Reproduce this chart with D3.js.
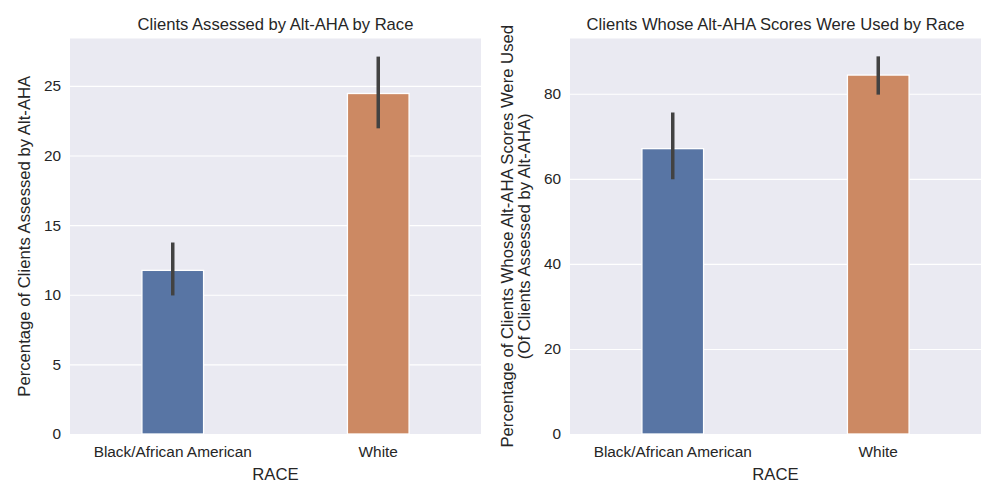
<!DOCTYPE html>
<html>
<head>
<meta charset="utf-8">
<script src="https://cdn.jsdelivr.net/npm/d3@7"></script>
<style>
  body { margin: 0; background: #fff; }
  text { font-family: "Liberation Sans", Arial, sans-serif; fill: #262626; }
</style>
</head>
<body>
<div id="chart"></div>
<script>
// data
const races = ["Black/African American", "White"];
const assessedPct = [11.75, 24.45];
const assessedLow = [9.95, 21.95];
const assessedHigh = [13.75, 27.1];
const usedPct = [67.1, 84.4];
const usedLow = [59.9, 79.8];
const usedHigh = [75.6, 88.8];
const barColors = ["#5875A4", "#CC8963"];

const width = 1000, height = 500;
const svg = d3.select("#chart").append("svg")
    .attr("width", width)
    .attr("height", height);

function drawPanel(opts) {
    let left = opts.left, right = opts.right, top = 38.5, bottom = 434;
    let g = svg.append("g");

    let x = d3.scaleBand()
            .domain(races)
            .range([left, right]);
    let y = d3.scaleLinear()
            .domain([0, opts.ymax])
            .range([bottom, top]);

    g.append("rect")
        .attr("x", left).attr("y", top)
        .attr("width", right - left).attr("height", bottom - top)
        .attr("fill", "#EAEAF2");

    // grid
    let yAxis = g.append("g")
        .attr("transform", "translate(" + left + ",0)")
        .call(d3.axisLeft(y).tickValues(opts.ticks).tickSize(-(right - left)).tickPadding(9));
    yAxis.select(".domain").remove();
    yAxis.selectAll("line").attr("stroke", "#fff").attr("stroke-width", 1.1);
    yAxis.selectAll("text").attr("font-size", "15.4px").attr("fill", "#262626")
        .style("font-family", "'Liberation Sans', Arial, sans-serif");

    let xAxis = g.append("g")
        .attr("transform", "translate(0," + bottom + ")")
        .call(d3.axisBottom(x).tickSize(0).tickPadding(12));
    xAxis.select(".domain").remove();
    xAxis.selectAll("text").attr("font-size", "15.4px").attr("fill", "#262626")
        .style("font-family", "'Liberation Sans', Arial, sans-serif");

    let bw = x.bandwidth() * 0.3;
    g.selectAll("rect.bar")
        .data(races)
        .enter()
        .append("rect")
        .attr("class", "bar")
        .attr("x", (d) => x(d) + x.bandwidth() / 2 - bw / 2)
        .attr("y", (d, i) => y(opts.values[i]))
        .attr("width", bw)
        .attr("height", (d, i) => y(0) - y(opts.values[i]))
        .attr("fill", (d, i) => barColors[i])
        .attr("stroke", "#fff")
        .attr("stroke-width", 1.3);

    g.selectAll("line.err")
        .data(races)
        .enter()
        .append("line")
        .attr("class", "err")
        .attr("x1", (d) => x(d) + x.bandwidth() / 2)
        .attr("x2", (d) => x(d) + x.bandwidth() / 2)
        .attr("y1", (d, i) => y(opts.low[i]))
        .attr("y2", (d, i) => y(opts.high[i]))
        .attr("stroke", "#424242")
        .attr("stroke-width", 3.5);

    g.append("text")
        .attr("x", (left + right) / 2).attr("y", 30)
        .attr("text-anchor", "middle")
        .attr("font-size", "16.6px")
        .text(opts.title);

    g.append("text")
        .attr("x", (left + right) / 2).attr("y", 480)
        .attr("text-anchor", "middle")
        .attr("font-size", "16.7px")
        .text("RACE");

    let yl = g.append("text")
        .attr("transform", "translate(" + opts.ylabelX + "," + (top + bottom) / 2 + ")rotate(-90)")
        .attr("text-anchor", "middle")
        .attr("font-size", "16.7px");
    opts.ylabel.forEach((line, i) => {
        yl.append("tspan")
            .attr("x", 0)
            .attr("dy", i == 0 ? 0 : "1.0em")
            .text(line);
    });
}

drawPanel({
    left: 70, right: 481, ymax: 28.4,
    ticks: [0, 5, 10, 15, 20, 25],
    values: assessedPct, low: assessedLow, high: assessedHigh,
    title: "Clients Assessed by Alt-AHA by Race",
    ylabel: ["Percentage of Clients Assessed by Alt-AHA"],
    ylabelX: 30
});

drawPanel({
    left: 570, right: 981, ymax: 93,
    ticks: [0, 20, 40, 60, 80],
    values: usedPct, low: usedLow, high: usedHigh,
    title: "Clients Whose Alt-AHA Scores Were Used by Race",
    ylabel: ["Percentage of Clients Whose Alt-AHA Scores Were Used", "(Of Clients Assessed by Alt-AHA)"],
    ylabelX: 513
});
</script>
</body>
</html>
